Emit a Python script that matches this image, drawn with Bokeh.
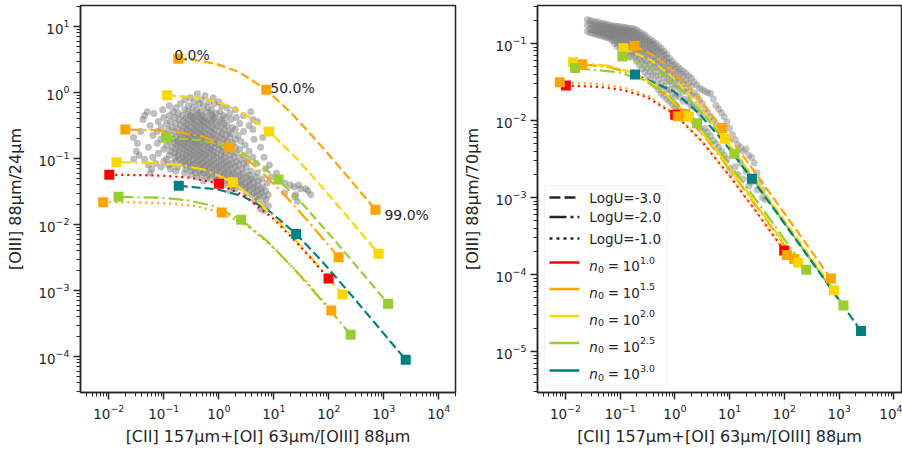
from bokeh.plotting import figure
from bokeh.models import FixedTicker, BoxAnnotation
from bokeh.layouts import row
from bokeh.core.properties import value
from bokeh.embed import file_html
from bokeh.resources import INLINE

FONT = "DejaVu Sans"
INK = "#262626"

# ---------------- data ----------------
# mixing curves: samples along PDR covering fraction; squares at 0%, 50%, 99%
frac_labels = ["0.0%", "50.0%", "99.0%"]
marker_idx = [0, 4, 8]

# LogU=-3 (dashed)
x_m3_n15 = [0.183, 0.397, 0.895, 2.32, 7.30, 21.5, 71.4, 214, 705]
y24_m3_n15 = [3.24, 3.06, 2.71, 2.05, 1.10, 0.474, 0.158, 0.0546, 0.0167]
y70_m3_n15 = [0.093, 0.0706, 0.0452, 0.0223, 0.0080, 0.00284, 0.00087, 0.000292, 0.0000885]

x_m3_n20 = [0.115, 0.358, 0.925, 2.55, 8.2, 24.4, 81.1, 243, 802]
y24_m3_n20 = [0.91, 0.846, 0.726, 0.517, 0.257, 0.106, 0.0345, 0.0118, 0.0036]
y70_m3_n20 = [0.087, 0.0613, 0.0363, 0.0167, 0.0058, 0.00202, 0.000617, 0.000207, 0.0000627]

x_m3_n25 = [0.11, 0.473, 1.32, 3.74, 12.2, 36.4, 121, 363, 1198]
y24_m3_n25 = [0.208, 0.189, 0.156, 0.104, 0.048, 0.0189, 0.00606, 0.00206, 0.00063]
y70_m3_n25 = [0.068, 0.0447, 0.0248, 0.0109, 0.0037, 0.00128, 0.000389, 0.00013, 0.0000395]

x_m3_n30 = [0.187, 0.946, 2.72, 7.78, 25.5, 76.1, 253, 759, 2505]
y24_m3_n30 = [0.0386, 0.0341, 0.0269, 0.0167, 0.0072, 0.00274, 0.000866, 0.000293, 0.0000892]
y70_m3_n30 = [0.0396, 0.024, 0.0125, 0.00529, 0.00175, 0.000602, 0.000183, 0.000061, 0.0000185]

# LogU=-2 (dash-dot)
x_m2_n15 = [0.020, 0.0659, 0.173, 0.479, 1.55, 4.61, 15.3, 45.9, 151]
y24_m2_n15 = [0.275, 0.268, 0.253, 0.219, 0.148, 0.077, 0.0287, 0.0103, 0.0032]
y70_m2_n15 = [0.054, 0.049, 0.0402, 0.0266, 0.0122, 0.00478, 0.00153, 0.00052, 0.000159]

x_m2_n20 = [0.0138, 0.0675, 0.193, 0.551, 1.80, 5.38, 17.9, 53.7, 177]
y24_m2_n20 = [0.088, 0.0854, 0.0799, 0.0675, 0.0438, 0.0218, 0.00793, 0.00281, 0.00087]
y70_m2_n20 = [0.057, 0.0508, 0.0406, 0.0258, 0.0113, 0.00435, 0.00138, 0.000466, 0.000142]

x_m2_n25 = [0.015, 0.0909, 0.268, 0.774, 2.55, 7.61, 25.3, 75.9, 250]
y24_m2_n25 = [0.0263, 0.0254, 0.0234, 0.0192, 0.0118, 0.00561, 0.00198, 0.000695, 0.000214]
y70_m2_n25 = [0.048, 0.0426, 0.0338, 0.0212, 0.0092, 0.00351, 0.00111, 0.000376, 0.000115]

# LogU=-1 (dotted)
x_m1_n10 = [0.0102, 0.0402, 0.110, 0.310, 1.01, 3.01, 10.0, 30.0, 99.0]
y24_m1_n10 = [0.0566, 0.056, 0.0546, 0.051, 0.0414, 0.0269, 0.0121, 0.00471, 0.00152]
y70_m1_n10 = [0.0285, 0.0274, 0.025, 0.0201, 0.0119, 0.0055, 0.00191, 0.000665, 0.000205]

x_m1_n15 = [0.0079, 0.0415, 0.120, 0.344, 1.13, 3.37, 11.2, 33.6, 111]
y24_m1_n15 = [0.0218, 0.0215, 0.0209, 0.0193, 0.0152, 0.00947, 0.00408, 0.00156, 0.000496]
y70_m1_n15 = [0.0314, 0.0298, 0.0267, 0.0206, 0.0114, 0.00502, 0.0017, 0.000587, 0.00018]

logU_labels = ["LogU=-3.0", "LogU=-2.0", "LogU=-1.0"]
n0_exponents = ["1.0", "1.5", "2.0", "2.5", "3.0"]
n0_colors = ["#ff0000", "#ffa500", "#ffd700", "#9acd32", "#008080"]

# (logU index, n0 index, x, y 88/24, y 88/70)
curves = [
    (0, 1, x_m3_n15, y24_m3_n15, y70_m3_n15),
    (0, 2, x_m3_n20, y24_m3_n20, y70_m3_n20),
    (0, 3, x_m3_n25, y24_m3_n25, y70_m3_n25),
    (0, 4, x_m3_n30, y24_m3_n30, y70_m3_n30),
    (1, 1, x_m2_n15, y24_m2_n15, y70_m2_n15),
    (1, 2, x_m2_n20, y24_m2_n20, y70_m2_n20),
    (1, 3, x_m2_n25, y24_m2_n25, y70_m2_n25),
    (2, 0, x_m1_n10, y24_m1_n10, y70_m1_n10),
    (2, 1, x_m1_n15, y24_m1_n15, y70_m1_n15),
]

# galaxy cloud, left panel: rows of (log y, [log x ...])
left_cloud_rows = [
    (-0.02, [-0.39]),
    (-0.05, [-0.25]),
    (-0.08, [-0.52, -0.1]),
    (-0.11, [-0.32, -0.62]),
    (-0.14, [-0.45, -0.18, 0.0]),
    (-0.17, [-0.7, -0.36, -0.08]),
    (-0.20, [-0.55, -0.28, 0.05, -0.9]),
    (-0.23, [-0.78, -0.47, -0.2, 0.15]),
    (-0.26, [-1.02, -0.62, -0.4, -0.13, 0.3]),
    (-0.29, [-1.3, -0.83, -0.56, -0.33, -0.22, 0.02, 0.58]),
    (-0.32, [-1.18, -0.74, -0.5, -0.38, -0.15, -0.05, 0.2]),
    (-0.35, [-1.35, -0.9, -0.66, -0.52, -0.42, -0.3, -0.12, 0.08, 0.45]),
    (-0.38, [-1.0, -0.8, -0.6, -0.47, -0.35, -0.25, -0.08, 0.12, 0.32]),
    (-0.41, [-1.38, -0.72, -0.55, -0.44, -0.32, -0.2, -0.1, 0.02, 0.22, 0.62]),
    (-0.44, [-1.1, -0.88, -0.65, -0.5, -0.38, -0.27, -0.14, 0.05, 0.7]),
    (-0.47, [-0.95, -0.78, -0.6, -0.46, -0.33, -0.22, -0.06, 0.1, 0.38]),
    (-0.50, [-1.25, -0.7, -0.56, -0.42, -0.3, -0.18, -0.02, 0.15, 0.55]),
    (-0.53, [-1.05, -0.85, -0.64, -0.51, -0.4, -0.26, -0.12, 0.04, 0.25]),
    (-0.56, [-0.92, -0.75, -0.58, -0.45, -0.34, -0.2, -0.08, 0.1, 0.3, 0.62]),
    (-0.59, [-1.42, -1.12, -0.8, -0.66, -0.52, -0.4, -0.29, -0.15, 0.0, 0.18, 0.45]),
    (-0.62, [-0.98, -0.72, -0.6, -0.48, -0.36, -0.24, -0.1, 0.06, 0.22]),
    (-0.65, [-1.2, -0.86, -0.68, -0.55, -0.43, -0.31, -0.18, -0.04, 0.12, 0.35]),
    (-0.68, [-1.55, -0.95, -0.78, -0.62, -0.5, -0.39, -0.27, -0.13, 0.02, 0.2, 0.8]),
    (-0.71, [-1.05, -0.82, -0.7, -0.57, -0.45, -0.34, -0.22, -0.08, 0.08, 0.3, 0.64]),
    (-0.74, [-0.9, -0.74, -0.62, -0.5, -0.4, -0.28, -0.16, -0.02, 0.15, 0.4]),
    (-0.77, [-1.48, -1.12, -0.8, -0.68, -0.56, -0.44, -0.33, -0.21, -0.06, 0.1, 0.25]),
    (-0.80, [-0.95, -0.76, -0.63, -0.5, -0.38, -0.26, -0.14, 0.0, 0.18, 0.48]),
    (-0.83, [-1.28, -0.85, -0.7, -0.58, -0.46, -0.34, -0.2, -0.08, 0.06, 0.3, 0.76]),
    (-0.86, [-1.0, -0.78, -0.64, -0.52, -0.4, -0.28, -0.15, 0.0, 0.16, 0.38]),
    (-0.89, [-1.5, -0.88, -0.72, -0.58, -0.46, -0.34, -0.22, -0.1, 0.06, 0.24, 0.55]),
    (-0.92, [-1.1, -0.8, -0.66, -0.53, -0.41, -0.29, -0.17, -0.04, 0.12, 0.32]),
    (-0.95, [-1.45, -0.9, -0.74, -0.6, -0.48, -0.36, -0.24, -0.1, 0.04, 0.2, 0.45]),
    (-0.98, [-1.2, -0.8, -0.66, -0.54, -0.42, -0.3, -0.18, -0.05, 0.1, 0.28, 0.62, 0.82]),
    (-1.01, [-1.55, -1.35, -0.95, -0.72, -0.6, -0.47, -0.35, -0.23, -0.1, 0.05, 0.2, 0.4]),
    (-1.04, [-1.0, -0.78, -0.64, -0.52, -0.39, -0.27, -0.14, 0.0, 0.14, 0.32, 0.52]),
    (-1.07, [-1.15, -0.85, -0.68, -0.55, -0.43, -0.3, -0.18, -0.05, 0.1, 0.25, 0.45, 0.68]),
    (-1.10, [-1.28, -0.92, -0.6, -0.47, -0.34, -0.22, -0.09, 0.05, 0.2, 0.36, 0.92]),
    (-1.13, [-1.05, -0.75, -0.52, -0.38, -0.26, -0.13, 0.0, 0.14, 0.3, 0.5]),
    (-1.16, [-1.22, -0.88, -0.6, -0.44, -0.3, -0.17, -0.04, 0.1, 0.24, 0.42, 0.85]),
    (-1.19, [-0.78, -0.5, -0.35, -0.22, -0.08, 0.05, 0.18, 0.34, 0.58]),
    (-1.22, [-1.25, -0.62, -0.42, -0.28, -0.12, 0.02, 0.15, 0.28, 0.45, 0.7, 1.05]),
    (-1.25, [-0.5, -0.32, -0.18, -0.04, 0.1, 0.24, 0.38, 0.55]),
    (-1.28, [-0.4, -0.22, -0.06, 0.08, 0.22, 0.36, 0.5, 0.66, 0.95]),
    (-1.31, [-0.15, 0.02, 0.16, 0.3, 0.44, 0.6, 0.78, 1.07]),
    (-1.34, [-0.28, -0.05, 0.12, 0.26, 0.4, 0.55, 0.72]),
    (-1.37, [0.0, 0.2, 0.34, 0.48, 0.62, 0.88, 1.2]),
    (-1.40, [0.1, 0.28, 0.42, 0.56, 0.7, 1.3, 1.45]),
    (-1.43, [0.25, 0.4, 0.52, 0.66, 0.8, 1.37]),
    (-1.46, [0.3, 0.48, 0.62, 0.76, 1.49, 1.58]),
    (-1.49, [0.2, 0.55, 0.7, 0.85, 1.62]),
    (-1.52, [0.5, 0.64, 0.78, 1.2]),
    (-1.55, [0.6, 0.74, 0.9, 1.4, 1.67]),
    (-1.58, [0.68, 0.82, 1.38]),
    (-1.62, [0.72, 0.86]),
    (-1.65, [0.65, 1.43]),
    (-1.69, [0.8]),
    (-1.72, [0.9]),
    (-1.76, [0.75]),
    (-1.79, [0.82]),
]

# galaxy cloud, right panel: columns of (log x, [log y ...])
right_cloud_cols = [
    (-1.60, [-0.69, -0.76, -0.84]),
    (-1.55, [-0.70, -0.75, -0.81, -0.86]),
    (-1.50, [-0.71, -0.75, -0.79, -0.83, -0.87]),
    (-1.45, [-0.72, -0.77, -0.80, -0.84, -0.88]),
    (-1.40, [-0.72, -0.76, -0.79, -0.82, -0.85, -0.89]),
    (-1.35, [-0.74, -0.77, -0.81, -0.84, -0.87, -0.90]),
    (-1.30, [-0.74, -0.77, -0.80, -0.83, -0.86, -0.88, -0.91]),
    (-1.25, [-0.75, -0.78, -0.81, -0.84, -0.87, -0.90, -0.92]),
    (-1.20, [-0.76, -0.79, -0.82, -0.85, -0.88, -0.91, -0.93]),
    (-1.15, [-0.77, -0.79, -0.82, -0.85, -0.88, -0.90, -0.93, -0.96]),
    (-1.10, [-0.77, -0.80, -0.83, -0.86, -0.89, -0.92, -0.96, -1.00]),
    (-1.05, [-0.78, -0.81, -0.84, -0.87, -0.90, -0.94, -0.99, -1.04]),
    (-1.00, [-0.78, -0.81, -0.84, -0.87, -0.90, -0.93, -0.97, -1.02, -1.08]),
    (-0.95, [-0.79, -0.82, -0.85, -0.88, -0.91, -0.95, -0.99, -1.04, -1.11]),
    (-0.90, [-0.79, -0.82, -0.86, -0.89, -0.92, -0.96, -1.00, -1.06, -1.13]),
    (-0.85, [-0.80, -0.83, -0.86, -0.90, -0.93, -0.97, -1.02, -1.08, -1.14]),
    (-0.80, [-0.80, -0.84, -0.87, -0.91, -0.95, -0.99, -1.04, -1.10, -1.16]),
    (-0.75, [-0.81, -0.84, -0.88, -0.92, -0.96, -1.00, -1.05, -1.11, -1.18]),
    (-0.70, [-0.82, -0.86, -0.90, -0.94, -0.98, -1.03, -1.08, -1.15, -1.23]),
    (-0.65, [-0.85, -0.89, -0.93, -0.97, -1.02, -1.07, -1.13, -1.20, -1.28]),
    (-0.60, [-0.87, -0.91, -0.95, -1.00, -1.05, -1.10, -1.16, -1.24, -1.33]),
    (-0.55, [-0.89, -0.93, -0.97, -1.02, -1.07, -1.13, -1.20, -1.28, -1.37]),
    (-0.50, [-0.92, -0.96, -1.00, -1.05, -1.10, -1.16, -1.23, -1.32, -1.42]),
    (-0.45, [-0.95, -0.99, -1.03, -1.08, -1.13, -1.19, -1.27, -1.36, -1.47]),
    (-0.40, [-0.97, -1.01, -1.06, -1.11, -1.16, -1.23, -1.31, -1.40, -1.51]),
    (-0.35, [-1.00, -1.05, -1.10, -1.16, -1.23, -1.31, -1.42, -1.55]),
    (-0.30, [-1.03, -1.08, -1.13, -1.20, -1.27, -1.36, -1.47, -1.60]),
    (-0.25, [-1.06, -1.11, -1.17, -1.24, -1.31, -1.40, -1.52, -1.65]),
    (-0.20, [-1.10, -1.15, -1.21, -1.28, -1.35, -1.44, -1.56, -1.68]),
    (-0.15, [-1.14, -1.19, -1.25, -1.32, -1.40, -1.49, -1.60, -1.72]),
    (-0.10, [-1.19, -1.25, -1.32, -1.40, -1.49, -1.60, -1.75]),
    (-0.05, [-1.23, -1.29, -1.36, -1.44, -1.53, -1.65, -1.79]),
    (0.00, [-1.27, -1.33, -1.40, -1.48, -1.57, -1.69, -1.83]),
    (0.05, [-1.30, -1.37, -1.45, -1.54, -1.66, -1.85]),
    (0.10, [-1.33, -1.40, -1.48, -1.58, -1.70, -1.87]),
    (0.15, [-1.36, -1.43, -1.52, -1.62, -1.75, -1.90]),
    (0.20, [-1.39, -1.48, -1.58, -1.72, -1.92]),
    (0.25, [-1.42, -1.52, -1.63, -1.77, -1.95]),
    (0.30, [-1.45, -1.55, -1.67, -1.81, -1.98]),
    (0.35, [-1.50, -1.64, -1.80, -2.02]),
    (0.40, [-1.54, -1.68, -1.85, -2.06]),
    (0.45, [-1.58, -1.73, -1.90, -2.10]),
    (0.50, [-1.60, -1.78, -1.95, -2.14]),
    (0.55, [-1.62, -1.85, -2.10]),
    (0.60, [-1.64, -1.90, -2.15]),
    (0.65, [-1.65, -1.95, -2.20]),
    (0.70, [-1.72, -2.00, -2.26]),
    (0.75, [-1.80, -2.05, -2.30]),
    (0.80, [-1.85, -2.10, -2.35]),
    (0.85, [-1.90, -2.16, -2.40]),
    (0.90, [-1.95, -2.22, -2.45]),
    (0.95, [-2.02, -2.50]),
    (1.00, [-2.10, -2.62]),
    (1.05, [-2.18, -2.68]),
    (1.10, [-2.25, -2.60]),
    (1.15, [-2.31, -2.70]),
    (1.20, [-2.35, -2.55]),
    (1.25, [-2.40, -2.76]),
    (1.30, [-2.37, -2.66]),
    (1.35, [-2.45, -2.85]),
    (1.40, [-2.48, -2.80]),
    (1.45, [-2.55]),
    (1.50, [-2.68, -2.90]),
    (1.55, [-2.80]),
    (1.60, [-2.90, -3.00]),
    (1.65, [-3.03]),
]

x_major = [1e-2, 1e-1, 1e0, 1e1, 1e2, 1e3, 1e4]
y24_major = [1e-4, 1e-3, 1e-2, 1e-1, 1e0, 1e1]
y70_major = [1e-5, 1e-4, 1e-3, 1e-2, 1e-1]

# ---------------- layout constants (page pixels) ----------------
H = 451
TOP, BOT = 5, 59
FH = H - TOP - BOT
XR1, YR1 = (-2.515, 4.304), (-4.545, 1.318)
XR2, YR2 = (-2.51, 4.138), (-5.532, -0.506)
W1, BL1, BR1 = 460, 80, 5
W2, BL2, BR2 = 442, 76, 1
F2_LEFT_PAGE = W1 + BL2
F2_W = W2 - BL2 - BR2

curve_dash = ["9 4", "15 4 2 4", "2 4"]
legend_dash = ["11 4", "17 4 3 4", "3 4"]

minor = [m * 10.0 ** e for e in range(-7, 6) for m in range(2, 10)]


def style(p, xlabel, ylabel, ymajor):
    p.grid.visible = False
    p.outline_line_color = INK
    p.outline_line_width = 1.5
    p.xaxis.ticker = FixedTicker(ticks=x_major, minor_ticks=minor)
    p.yaxis.ticker = FixedTicker(ticks=ymajor, minor_ticks=minor)
    p.xaxis.axis_label = xlabel
    p.yaxis.axis_label = ylabel
    for ax in (p.xaxis[0], p.yaxis[0]):
        ax.axis_line_color = INK
        ax.axis_line_width = 1.5
        ax.major_tick_line_color = INK
        ax.minor_tick_line_color = INK
        ax.major_tick_line_width = 1.5
        ax.minor_tick_line_width = 1
        ax.major_tick_out = 7
        ax.major_tick_in = 0
        ax.minor_tick_out = 4
        ax.minor_tick_in = 0
        ax.major_label_text_font = FONT
        ax.major_label_text_font_size = "13.5px"
        ax.major_label_text_color = INK
        ax.major_label_standoff = 4
        ax.axis_label_text_font = FONT
        ax.axis_label_text_font_size = "16px"
        ax.axis_label_text_font_style = "normal"
        ax.axis_label_text_color = INK
    p.xaxis.axis_label_standoff = 5
    p.yaxis.axis_label_standoff = 10


def make(width, bl, br, xr, yr):
    return figure(width=width, height=H, x_axis_type="log", y_axis_type="log",
                  x_range=(10 ** xr[0], 10 ** xr[1]), y_range=(10 ** yr[0], 10 ** yr[1]),
                  min_border_left=bl, min_border_right=br, min_border_top=TOP,
                  min_border_bottom=BOT, output_backend="svg", toolbar_location=None)


p1 = make(W1, BL1, BR1, XR1, YR1)
p2 = make(W2, BL2, BR2, XR2, YR2)
style(p1, "[CII] 157μm+[OI] 63μm/[OIII] 88μm", "[OIII] 88μm/24μm", y24_major)
style(p2, "[CII] 157μm+[OI] 63μm/[OIII] 88μm", "[OIII] 88μm/70μm", y70_major)

# clouds
lcx, lcy = [], []
for ly, lxs in left_cloud_rows:
    for lx in lxs:
        lcx.append(10 ** lx)
        lcy.append(10 ** ly)
p1.scatter(lcx, lcy, size=7, fill_color="gray", fill_alpha=0.5, line_color=None)

rcx, rcy = [], []
for lx, lys in right_cloud_cols:
    for ly in lys:
        rcx.append(10 ** lx)
        rcy.append(10 ** ly)
p2.scatter(rcx, rcy, size=7, fill_color="gray", fill_alpha=0.45, line_color=None)

# curves and squares
for p, k in ((p1, 3), (p2, 4)):
    for c in curves:
        u, n, xs, ys = c[0], c[1], c[2], c[k]
        p.line(xs, ys, line_color=n0_colors[n], line_width=2.2, line_dash=curve_dash[u])
    for c in curves:
        u, n, xs, ys = c[0], c[1], c[2], c[k]
        p.scatter([xs[i] for i in marker_idx], [ys[i] for i in marker_idx], marker="square",
                  size=10, fill_color=n0_colors[n], line_color=None)

# percentage annotations (left panel, first curve)
p1.text([x_m3_n15[i] for i in marker_idx], [y24_m3_n15[i] for i in marker_idx], text=frac_labels,
        x_offset=[-4, 4, 9], y_offset=[-4, -2, 5], text_font=value(FONT), text_font_size="14px",
        text_color=INK, text_align="left", text_baseline="alphabetic")


# legend (right panel): page pixel positions converted to data coords
def rx(px):
    return 10 ** (XR2[0] + (px - F2_LEFT_PAGE) / F2_W * (XR2[1] - XR2[0]))


def ry(py):
    return 10 ** (YR2[1] - (py - TOP) / FH * (YR2[1] - YR2[0]))


p2.add_layout(BoxAnnotation(left=rx(543), right=rx(666), top=ry(185), bottom=ry(385),
                            fill_color="white", fill_alpha=0.8, line_color="#cccccc",
                            line_width=1, border_radius=4, level="underlay"))
rows_u = [197, 216.5, 238]
rows_n = [262, 288.5, 315.5, 342.5, 370]
for i, yy in enumerate(rows_u):
    p2.line([rx(548), rx(578)], [ry(yy), ry(yy)], line_color=INK, line_width=2.6,
            line_dash=legend_dash[i])
for i, yy in enumerate(rows_n):
    p2.line([rx(548), rx(578)], [ry(yy), ry(yy)], line_color=n0_colors[i], line_width=2.6)

tx0 = 588
p2.text([rx(tx0)] * 3, [ry(v) for v in rows_u], text=logU_labels, text_font=value(FONT),
        text_font_size="13.5px", text_color=INK, text_baseline="middle", text_align="left")
yn = [ry(v) for v in rows_n]
common = dict(text_font=value(FONT), text_color=INK, text_align="left", text_baseline="alphabetic")
p2.text([rx(tx0)] * 5, yn, text=["n"] * 5, y_offset=3.5, text_font_size="13.5px",
        text_font_style="italic", **common)
p2.text([rx(tx0 + 8.6)] * 5, yn, text=["0"] * 5, y_offset=6.5, text_font_size="9.5px", **common)
p2.text([rx(tx0 + 18.4)] * 5, yn, text=["="] * 5, y_offset=3.5, text_font_size="13.5px", **common)
p2.text([rx(tx0 + 33.4)] * 5, yn, text=["10"] * 5, y_offset=3.5, text_font_size="13.5px", **common)
p2.text([rx(tx0 + 50.8)] * 5, yn, text=n0_exponents, y_offset=-2.5, text_font_size="9.5px", **common)

layout = row(p1, p2)
open("out.html", "w").write(file_html(layout, INLINE))
